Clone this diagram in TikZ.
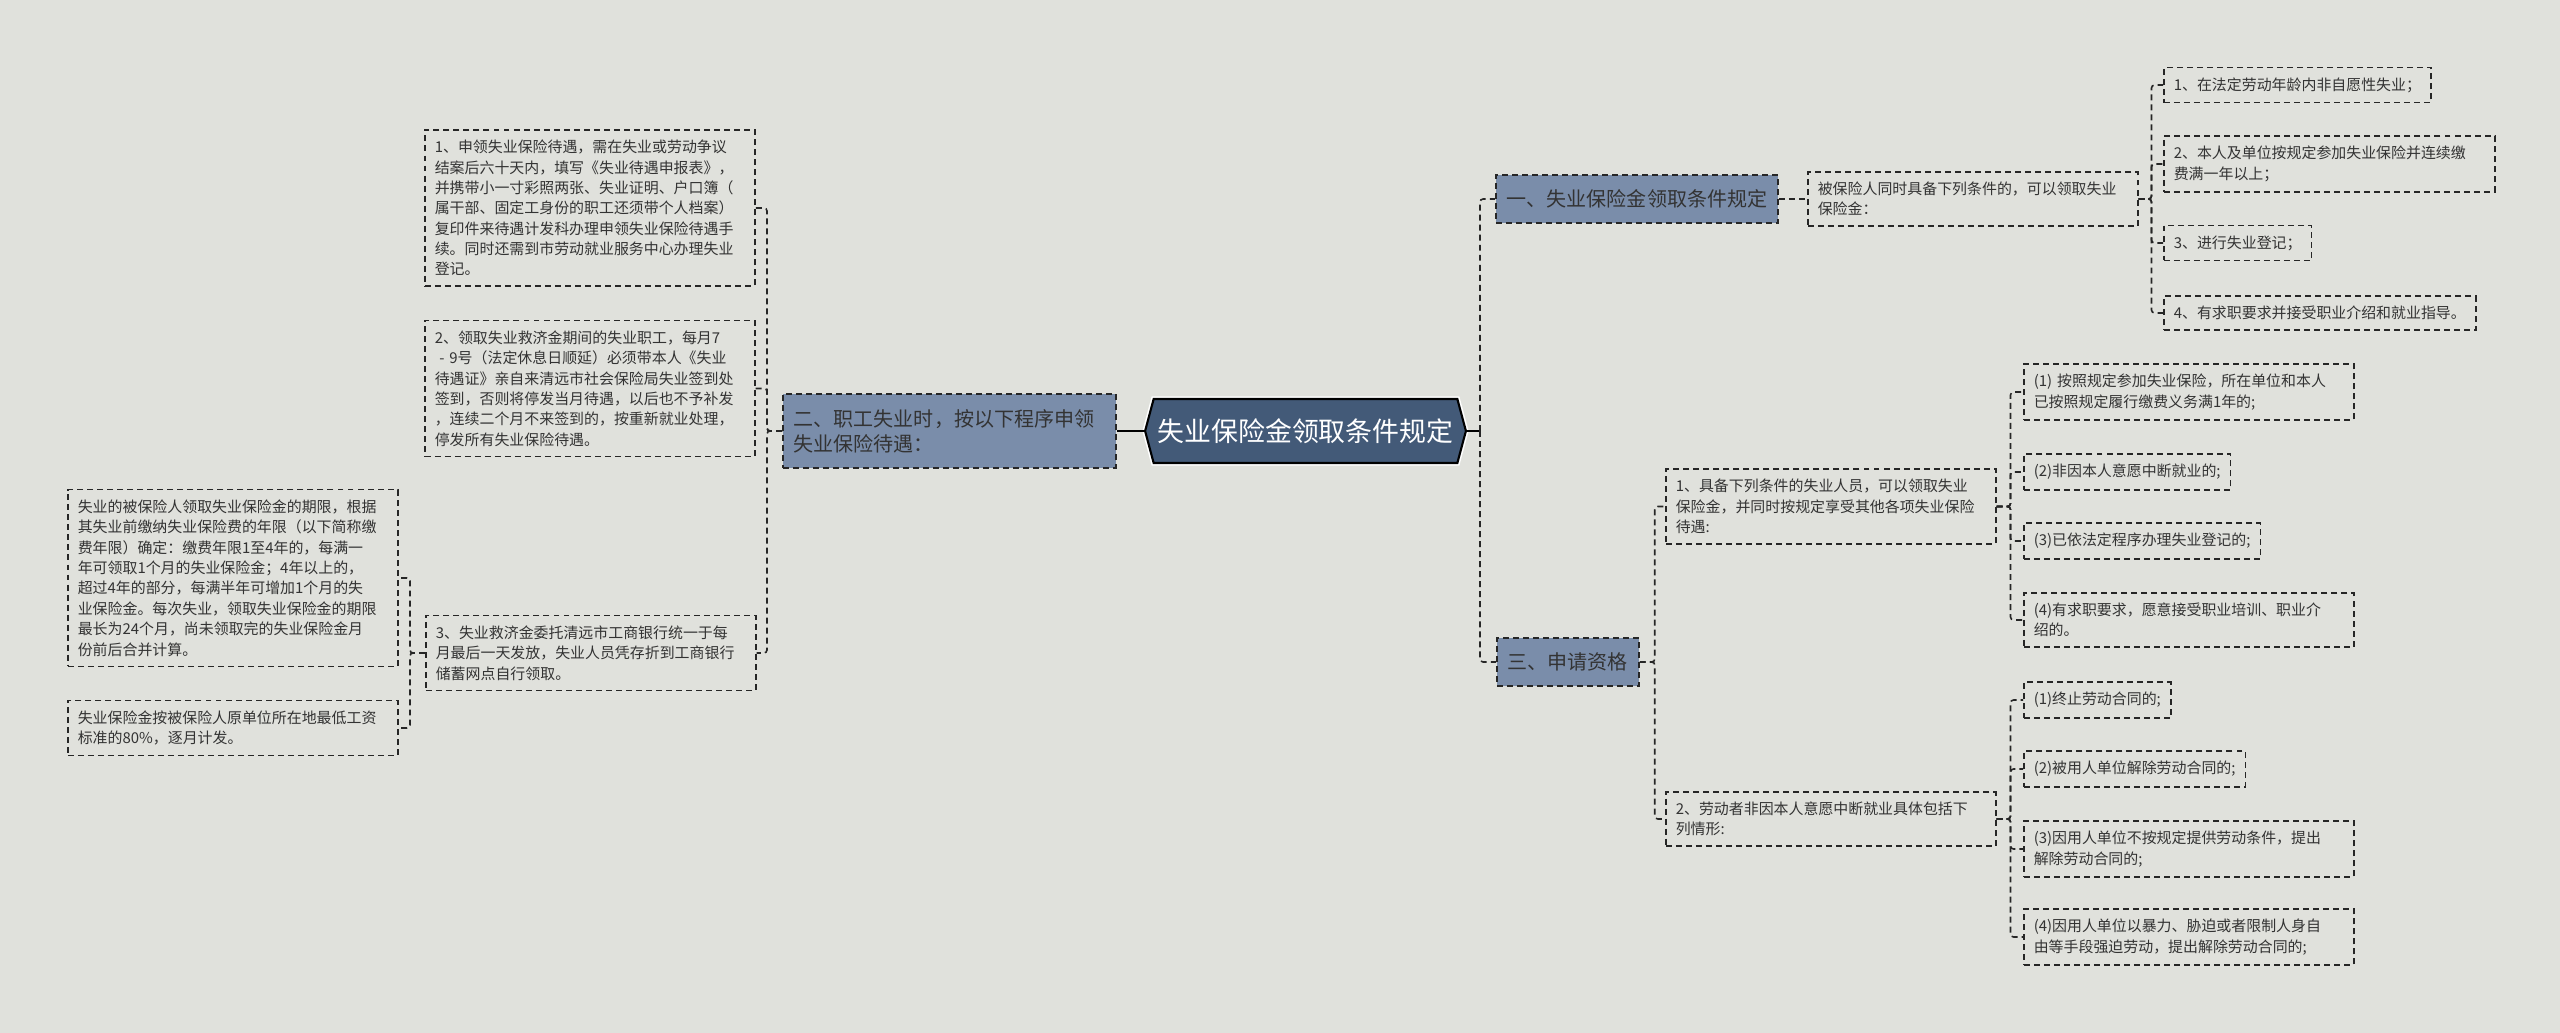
\documentclass[tikz,border=0pt]{standalone}
\usepackage{fontspec}
\setmainfont{Noto Sans CJK SC}
\usetikzlibrary{shapes.symbols}
\definecolor{bgc}{HTML}{E0E1DC}
\definecolor{topc}{HTML}{435A78}
\definecolor{subc}{HTML}{7A8DAA}
\definecolor{linec}{HTML}{262626}
\definecolor{txtc}{HTML}{333333}
\begin{document}
\begin{tikzpicture}[x=0.02cm,y=-0.02cm,
  leaf/.style={draw=linec,line width=0.9pt,dash pattern=on 3.4pt off 2.3pt,text=txtc,
    font=\fontsize{8.5}{11.6}\selectfont,inner xsep=0.2cm,inner ysep=0.2cm,anchor=west,align=left},
  branch/.style={draw=linec,line width=0.9pt,dash pattern=on 3.4pt off 2.3pt,fill=subc,text=txtc,
    font=\fontsize{11.4}{14.2}\selectfont,inner xsep=0.22cm,minimum height=0.96cm,anchor=west,align=left},
  topic/.style={signal,signal to=east and west,signal pointer angle=150,fill=topc,draw=black,
    line width=1.2pt,preaction={draw=white,line width=3pt},text=white,
    font=\fontsize{15.3}{18}\selectfont,minimum height=1.28cm,inner xsep=0.08cm},
  link/.style={draw=linec,line width=0.9pt,dash pattern=on 3.4pt off 2.3pt,rounded corners=0.06cm},
  stem/.style={draw=black,line width=1.2pt}]
\fill[bgc] (0,0) rectangle (2560,1033);
\node[topic] (R) at (1305.5,431) {失业保险金领取条件规定};
\node[branch,text width=6.22cm,minimum height=1.48cm] (L2) at (782,431) {二、职工失业时，按以下程序申领\\失业保险待遇：};
\node[branch] (L1) at (1495,199) {一、失业保险金领取条件规定};
\node[branch] (L3) at (1496,662) {三、申请资格};
\node[leaf,text width=6.2cm] (A1) at (424,208) {1、申领失业保险待遇，需在失业或劳动争议\\结案后六十天内，填写《失业待遇申报表》，\\并携带小一寸彩照两张、失业证明、户口簿（\\属干部、固定工身份的职工还须带个人档案）\\复印件来待遇计发科办理申领失业保险待遇手\\续。同时还需到市劳动就业服务中心办理失业\\登记。};
\node[leaf,text width=6.2cm] (A2) at (424,388.5) {2、领取失业救济金期间的失业职工，每月7\\\hspace{0.3em}- 9号（法定休息日顺延）必须带本人《失业\\待遇证》亲自来清远市社会保险局失业签到处\\签到，否则将停发当月待遇，以后也不予补发\\，连续二个月不来签到的，按重新就业处理，\\停发所有失业保险待遇。};
\node[leaf,text width=6.2cm] (A3) at (425,653) {3、失业救济金委托清远市工商银行统一于每\\月最后一天发放，失业人员凭存折到工商银行\\储蓄网点自行领取。};
\node[leaf,text width=6.2cm] (B1) at (67,578) {失业的被保险人领取失业保险金的期限，根据\\其失业前缴纳失业保险费的年限（以下简称缴\\费年限）确定：缴费年限1至4年的，每满一\\年可领取1个月的失业保险金；4年以上的，\\超过4年的部分，每满半年可增加1个月的失\\业保险金。每次失业，领取失业保险金的期限\\最长为24个月，尚未领取完的失业保险金月\\份前后合并计算。};
\node[leaf,text width=6.2cm] (B2) at (67,728) {失业保险金按被保险人原单位所在地最低工资\\标准的80\%，逐月计发。};
\node[leaf,text width=6.2cm] (C0) at (1807,199) {被保险人同时具备下列条件的，可以领取失业\\保险金：};
\node[leaf] (C1) at (2163,85) {1、在法定劳动年龄内非自愿性失业；};
\node[leaf,text width=6.22cm] (C2) at (2163,164) {2、本人及单位按规定参加失业保险并连续缴\\费满一年以上；};
\node[leaf] (C3) at (2163,243) {3、进行失业登记；};
\node[leaf] (C4) at (2163,313) {4、有求职要求并接受职业介绍和就业指导。};
\node[leaf,text width=6.2cm] (D1) at (1665,506.5) {1、具备下列条件的失业人员，可以领取失业\\保险金，并同时按规定享受其他各项失业保险\\待遇:};
\node[leaf,text width=6.2cm] (D2) at (1665,819) {2、劳动者非因本人意愿中断就业具体包括下\\列情形:};
\node[leaf,text width=6.2cm] (E1) at (2023,392) {(1) 按照规定参加失业保险，所在单位和本人\\已按照规定履行缴费义务满1年的;};
\node[leaf] (E2) at (2023,472) {(2)非因本人意愿中断就业的;};
\node[leaf] (E3) at (2023,541) {(3)已依法定程序办理失业登记的;};
\node[leaf,text width=6.2cm] (E4) at (2023,620) {(4)有求职要求，愿意接受职业培训、职业介\\绍的。};
\node[leaf] (F1) at (2023,700) {(1)终止劳动合同的;};
\node[leaf] (F2) at (2023,769) {(2)被用人单位解除劳动合同的;};
\node[leaf,text width=6.2cm] (F3) at (2023,849) {(3)因用人单位不按规定提供劳动条件，提出\\解除劳动合同的;};
\node[leaf,text width=6.2cm] (F4) at (2023,937) {(4)因用人单位以暴力、胁迫或者限制人身自\\由等手段强迫劳动，提出解除劳动合同的;};
\draw[stem] (L2.east) -- (R.west);
\draw[stem] (R.east) -- ++(13,0) coordinate (Rj);
\draw[link] (Rj) |- (L1.west);
\draw[link] (Rj) |- (L3.west);
\draw[link] (L2.west) -- ++(-15,0) |- (A1.east);
\draw[link] (L2.west) -- ++(-15,0) |- (A2.east);
\draw[link] (L2.west) -- ++(-15,0) |- (A3.east);
\draw[link] (A3.west) -- ++(-15,0) |- (B1.east);
\draw[link] (A3.west) -- ++(-15,0) |- (B2.east);
\draw[link] (L1.east) -- (C0.west);
\draw[link] (C0.east) -- ++(13,0) |- (C1.west);
\draw[link] (C0.east) -- ++(13,0) |- (C2.west);
\draw[link] (C0.east) -- ++(13,0) |- (C3.west);
\draw[link] (C0.east) -- ++(13,0) |- (C4.west);
\draw[link] (L3.east) -- ++(15,0) |- (D1.west);
\draw[link] (L3.east) -- ++(15,0) |- (D2.west);
\draw[link] (D1.east) -- ++(14,0) |- (E1.west);
\draw[link] (D1.east) -- ++(14,0) |- (E2.west);
\draw[link] (D1.east) -- ++(14,0) |- (E3.west);
\draw[link] (D1.east) -- ++(14,0) |- (E4.west);
\draw[link] (D2.east) -- ++(14,0) |- (F1.west);
\draw[link] (D2.east) -- ++(14,0) |- (F2.west);
\draw[link] (D2.east) -- ++(14,0) |- (F3.west);
\draw[link] (D2.east) -- ++(14,0) |- (F4.west);
\end{tikzpicture}
\end{document}
